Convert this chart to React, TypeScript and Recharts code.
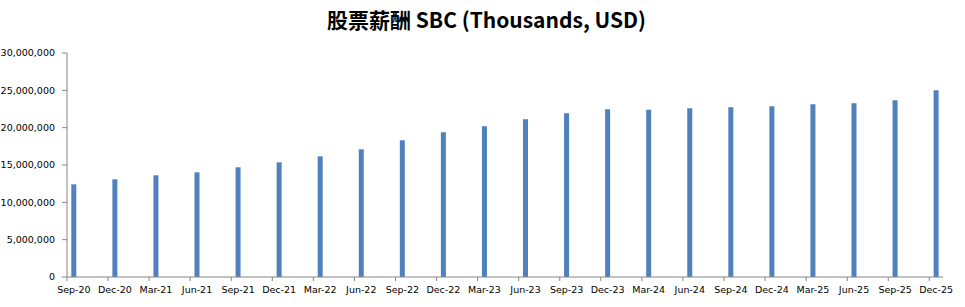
import { BarChart, Bar, XAxis, YAxis } from "recharts";

const categories = [
  "Sep-20", "Dec-20", "Mar-21", "Jun-21", "Sep-21", "Dec-21", "Mar-22", "Jun-22",
  "Sep-22", "Dec-22", "Mar-23", "Jun-23", "Sep-23", "Dec-23", "Mar-24", "Jun-24",
  "Sep-24", "Dec-24", "Mar-25", "Jun-25", "Sep-25", "Dec-25",
];

// SBC, thousands of USD
const sbcValues = [
  12410000, 13080000, 13620000, 14020000, 14690000, 15360000, 16160000, 17100000,
  18310000, 19380000, 20180000, 21120000, 21920000, 22460000, 22400000, 22590000,
  22730000, 22860000, 23130000, 23260000, 23660000, 25000000,
];

const yTicks = [0, 5000000, 10000000, 15000000, 20000000, 25000000, 30000000];

// date axis in months: each quarter spans 3 monthly slots, bar sits in the first
const MONTHS = 64;
const data = categories.map((label, i) => ({ label, x: i * 3 + 0.5, sbc: sbcValues[i] }));
const xTicks = categories.map((_, i) => i * 3);

const W = 965;
const H = 307;
const PLOT_LEFT = 67;
const PLOT_RIGHT = 943;
const HALF_SLOT = (PLOT_RIGHT - PLOT_LEFT) / MONTHS / 2;

const axisColor = "#868686";
const font = "'DejaVu Sans', sans-serif";

function MonthTick(props: any) {
  const { x, y, payload } = props;
  const label = categories[Math.round(payload.value / 3)];
  return (
    <text
      x={x + HALF_SLOT}
      y={y}
      dy="0.75em"
      textAnchor="middle"
      fill="#000"
      fontSize={9.5}
      fontFamily={font}
    >
      {label}
    </text>
  );
}

export default function App() {
  return (
    <div style={{ position: "absolute", left: 0, top: 0, width: W, height: H, background: "#fff" }}>
      <div
        style={{
          position: "absolute",
          left: 4,
          top: 5,
          width: W,
          textAlign: "center",
          fontFamily: "'Noto Sans CJK SC', sans-serif",
          fontWeight: 700,
          fontSize: 21,
          color: "#000",
          lineHeight: "29px",
        }}
      >
        股票薪酬 SBC (Thousands, USD)
      </div>
      <BarChart
        width={W}
        height={H}
        data={data}
        margin={{ top: 53, right: W - PLOT_RIGHT, bottom: 10, left: 7 }}
      >
        <XAxis
          type="number"
          dataKey="x"
          domain={[0, MONTHS]}
          ticks={xTicks}
          interval={0}
          height={20}
          tickSize={4}
          tickMargin={5}
          stroke={axisColor}
          tick={<MonthTick />}
          allowDataOverflow
        />
        <YAxis
          domain={[0, 30000000]}
          ticks={yTicks}
          width={60}
          tickSize={5}
          tickMargin={7}
          stroke={axisColor}
          tick={{ fill: "#000", fontSize: 9.5, fontFamily: font }}
          tickFormatter={(v: number) => v.toLocaleString("en-US")}
        />
        <Bar dataKey="sbc" fill="#4F81BD" barSize={5} isAnimationActive={false} />
      </BarChart>
    </div>
  );
}
